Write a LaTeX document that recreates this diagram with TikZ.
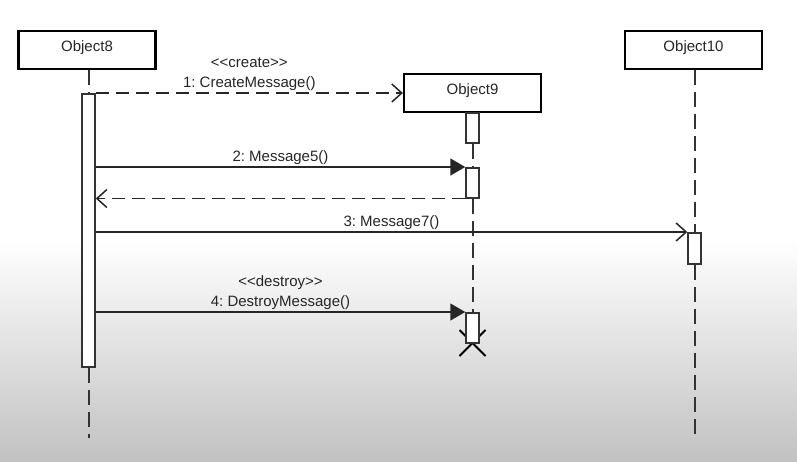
\documentclass[tikz,border=0pt]{standalone}
\usepackage{fontspec}
\setmainfont{Liberation Sans}
\usetikzlibrary{arrows.meta,backgrounds}
\frenchspacing

\tikzset{
    object/.style={draw=black, line width=2.2pt, fill=white, minimum width=137pt, minimum height=38pt,
        text depth=8pt, text=black!85, font=\fontsize{15}{20}\selectfont},
    act/.style={draw=black!80, line width=1.5pt, fill=white, minimum width=13pt, inner sep=0pt, anchor=north},
    life/.style={draw=black!80, line width=2pt, dash pattern=on 15pt off 7pt},
    msg/.style={draw=black!85, line width=1.5pt},
    reply/.style={msg, dash pattern=on 13pt off 7pt},
    open/.style={-{Straight Barb[length=10pt,width=18pt,line width=1.5pt]}},
    filled/.style={-{Triangle[length=15pt,width=17pt]}},
    lbl/.style={above, inner sep=1.5pt, align=center, text=black!85, font=\fontsize{15}{20}\selectfont}
}

\begin{document}
\begin{tikzpicture}[x=1pt, y=-1pt]

    \useasboundingbox (0,0) rectangle (797,461);
    \fill[white] (0,0) rectangle (797,461);
    \shade[top color=white, bottom color=black!24] (0,240) rectangle (797,461);

    \node[object] (obj8) at (87,50) {Object8};
    \node[object] (obj9) at (472.5,93) {Object9};
    \node[object] (obj10) at (693.5,50) {Object10};

    \coordinate (end8) at (88.5,438);
    \coordinate (end10) at (694.5,438);

    % destroy mark sits behind the last activation
    \coordinate (kill) at (472.5,343);
    \draw[line width=2pt] ([shift={(-13,-13)}]kill) -- ([shift={(13,13)}]kill);
    \draw[line width=2pt] ([shift={(13,-13)}]kill) -- ([shift={(-13,13)}]kill);

    \node[act, minimum height=273pt] (act8) at (88.5,93) {};
    \node[act, minimum height=30pt] (act9a) at (472.5,112) {};
    \node[act, minimum height=30pt] (act9b) at (472.5,167) {};
    \node[act, minimum height=30pt] (act9c) at (472.5,312) {};
    \node[act, minimum height=31pt] (act10) at (694.5,232) {};

    \draw[life] (obj8.south -| act8.north) -- (act8.north);
    \draw[life] (act8.south) -- (end8);
    \draw[life] (act9a.south) -- (act9b.north);
    \draw[life] (act9b.south) -- (act9c.north);
    \draw[life] (obj10.south -| act10.north) -- (act10.north);
    \draw[life] (act10.south) -- (end10);

    \draw[reply, open] (act8.north east) -- (obj9.west)
        node[lbl, midway] {<{}<create>{}>\\1: CreateMessage()};
    \draw[msg, filled] (act8.east |- act9b.north west) -- (act9b.north west)
        node[lbl, midway] {2: Message5()};
    \draw[reply, open] (act9b.south west) -- (act8.east |- act9b.south west);
    \draw[msg, open] (act8.east |- act10.north west) -- (act10.north west)
        node[lbl, midway] {3: Message7()};
    \draw[msg, filled] (act8.east |- act9c.north west) -- (act9c.north west)
        node[lbl, midway] {<{}<destroy>{}>\\4: DestroyMessage()};

\end{tikzpicture}
\end{document}
